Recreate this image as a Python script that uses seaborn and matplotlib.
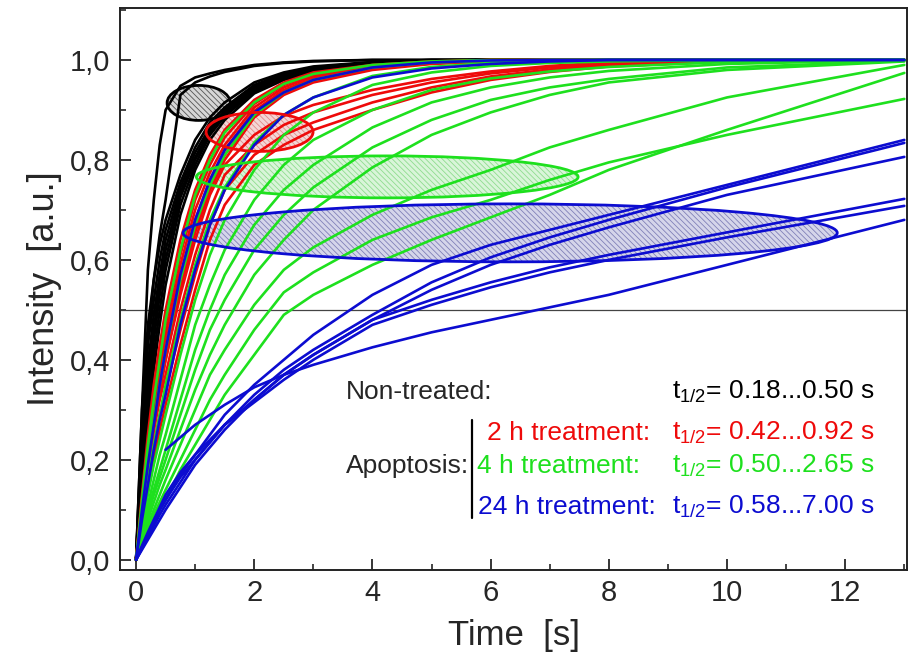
import numpy as np
import pandas as pd
import matplotlib
matplotlib.use("Agg")
import matplotlib.pyplot as plt
from matplotlib import font_manager
from matplotlib.patches import Ellipse
from matplotlib.ticker import MultipleLocator, FuncFormatter
import seaborn as sns

# ---------------- data ----------------
# sampling times of the recovery curves [s]
TIME = [0, 0.1, 0.2, 0.3, 0.4, 0.5, 0.75, 1, 1.25, 1.5, 2, 2.5, 3, 4, 5, 6, 7, 8, 10, 13]

# non-treated cells
BLACK_CURVES = [
    [0, .30, .58, .72, .83, .90, .948, .965, .973, .98, .99, .995, .998, 1, 1, 1, 1, 1, 1, 1],
    [0, .24, .44, .56, .65, .72, .93, .955, .967, .976, .988, .994, .997, 1, 1, 1, 1, 1, 1, 1],
    [0, .30, .47, .56, .63, .68, .77, .84, .885, .915, .955, .975, .987, .996, 1, 1, 1, 1, 1, 1],
    [0, .27, .43, .52, .60, .66, .755, .825, .875, .905, .95, .972, .985, .995, 1, 1, 1, 1, 1, 1],
    [0, .24, .39, .49, .57, .64, .745, .815, .865, .90, .947, .97, .983, .994, .999, 1, 1, 1, 1, 1],
    [0, .21, .36, .46, .55, .62, .735, .805, .86, .895, .944, .968, .982, .993, .999, 1, 1, 1, 1, 1],
    [0, .19, .33, .44, .53, .60, .725, .80, .855, .89, .94, .965, .98, .992, .998, 1, 1, 1, 1, 1],
    [0, .17, .30, .41, .50, .58, .71, .79, .85, .887, .937, .962, .978, .991, .998, 1, 1, 1, 1, 1],
    [0, .15, .28, .38, .47, .55, .69, .78, .84, .88, .933, .96, .976, .99, .997, 1, 1, 1, 1, 1],
]

# 2 h treatment
RED_CURVES = [
    [0, .13, .25, .35, .43, .50, .64, .74, .81, .86, .92, .955, .975, .99, .997, 1, 1, 1, 1, 1],
    [0, .12, .23, .32, .40, .47, .61, .72, .79, .845, .912, .95, .97, .988, .996, 1, 1, 1, 1, 1],
    [0, .11, .21, .30, .38, .45, .59, .70, .775, .83, .905, .945, .967, .986, .995, .999, 1, 1, 1, 1],
    [0, .10, .20, .28, .36, .43, .57, .68, .76, .82, .898, .94, .963, .984, .994, .998, 1, 1, 1, 1],
    [0, .095, .19, .27, .34, .41, .55, .665, .75, .81, .89, .935, .96, .982, .993, .998, 1, 1, 1, 1],
    [0, .09, .18, .26, .33, .40, .54, .655, .74, .80, .885, .93, .955, .98, .992, .997, 1, 1, 1, 1],
    [0, .10, .20, .28, .35, .40, .53, .64, .73, .79, .85, .888, .91, .94, .962, .977, .988, .995, 1, 1],
    [0, .09, .18, .26, .32, .37, .50, .61, .70, .77, .83, .87, .895, .93, .955, .973, .985, .992, .999, 1],
    [0, .08, .16, .23, .29, .34, .46, .57, .67, .74, .81, .85, .875, .915, .945, .967, .981, .99, .998, 1],
    [0, .07, .14, .20, .26, .31, .43, .54, .64, .71, .79, .83, .86, .90, .935, .96, .976, .987, .997, 1],
]

# 4 h treatment
GREEN_CURVES = [
    [0, .12, .23, .32, .40, .48, .62, .73, .80, .855, .915, .952, .972, .99, .997, 1, 1, 1, 1, 1],
    [0, .10, .20, .28, .35, .42, .56, .67, .75, .81, .89, .935, .96, .985, .995, .998, 1, 1, 1, 1],
    [0, .08, .16, .23, .29, .35, .48, .59, .68, .745, .835, .89, .925, .968, .986, .994, .998, 1, 1, 1],
    [0, .07, .13, .19, .24, .29, .41, .52, .61, .68, .78, .85, .895, .95, .975, .988, .994, .997, 1, 1],
    [0, .06, .11, .16, .21, .25, .36, .47, .55, .62, .72, .79, .84, .90, .94, .963, .977, .986, .996, 1],
    [0, .05, .10, .14, .18, .22, .32, .42, .50, .57, .67, .74, .79, .865, .915, .945, .965, .978, .992, 1],
    [0, .045, .09, .13, .165, .20, .29, .38, .46, .52, .62, .69, .745, .825, .88, .92, .945, .962, .985, .998],
    [0, .04, .08, .115, .15, .18, .26, .34, .41, .47, .57, .64, .70, .785, .85, .895, .93, .955, .98, .997],
    [0, .035, .07, .10, .13, .16, .23, .30, .37, .42, .51, .58, .625, .69, .74, .78, .825, .86, .925, .99],
    [0, .03, .06, .09, .115, .14, .20, .26, .32, .37, .46, .535, .575, .64, .685, .72, .76, .795, .85, .922],
    [0, .025, .05, .075, .10, .12, .18, .23, .28, .33, .41, .49, .53, .59, .64, .685, .73, .78, .86, .974],
]

# 24 h treatment (None = not recorded)
BLUE_CURVES = [
    [0, .10, .19, .27, .35, .42, .57, .68, .76, .82, .895, .935, .96, .985, .995, .999, 1, 1, 1, 1],
    [0, .08, .15, .22, .28, .33, .47, .58, .67, .74, .83, .89, .925, .965, .983, .992, .997, 1, 1, 1],
    [0, .025, .05, .075, .10, .12, .17, .21, .25, .29, .35, .40, .45, .53, .59, .63, .66, .69, .75, .84],
    [0, .022, .045, .068, .09, .11, .155, .20, .235, .27, .33, .38, .42, .49, .555, .605, .645, .68, .745, .834],
    [0, .02, .04, .06, .08, .10, .145, .19, .225, .26, .32, .37, .41, .48, .54, .59, .63, .665, .73, .806],
    [0, .025, .05, .075, .10, .12, .165, .20, .235, .27, .32, .37, .41, .48, .52, .555, .585, .61, .655, .722],
    [0, .028, .055, .08, .105, .13, .175, .21, .24, .27, .315, .36, .40, .47, .51, .545, .575, .60, .645, .708],
    [None, None, None, None, None, .22, .245, .27, .29, .31, .345, .37, .39, .425, .455, .48, .505, .53, .59, .68],
]

GROUPS = ["Non-treated", "2 h", "4 h", "24 h"]
COLORS = ["#000000", "#ee0a0a", "#1ee01e", "#0c0cd0"]
HALF_TIMES = ["0.18...0.50 s", "0.42...0.92 s", "0.50...2.65 s", "0.58...7.00 s"]

# spread of the half-times of each group: centre (t, I), width, height
ELLIPSES = [
    ((1.06, 0.914), 1.07, 0.070),
    ((2.09, 0.856), 1.81, 0.078),
    ((4.25, 0.766), 6.46, 0.084),
    ((6.33, 0.654), 11.07, 0.116),
]
ELLIPSE_FILL = ["#d6d6d6", "#f3d6d6", "#d9f5d9", "#d5d5ea"]
ELLIPSE_HATCH = ["#555555", "#e08a8a", "#8fdc8f", "#8080b8"]

# ---------------- build table ----------------
rows = []
cid = 0
for grp, curves in zip(GROUPS, [BLACK_CURVES, RED_CURVES, GREEN_CURVES, BLUE_CURVES]):
    for vals in curves:
        for t, v in zip(TIME, vals):
            if v is not None:
                rows.append({"time": t, "intensity": v, "group": grp, "curve": cid})
        cid += 1
df = pd.DataFrame(rows)

# ---------------- style ----------------
sns.set_style("ticks")
names = {f.name for f in font_manager.fontManager.ttflist}
narrow = "Liberation Sans Narrow" if "Liberation Sans Narrow" in names else "Liberation Sans"
plt.rcParams["font.family"] = ["Liberation Sans", "DejaVu Sans"]
plt.rcParams["mathtext.fontset"] = "custom"
plt.rcParams["mathtext.rm"] = "Liberation Sans"
plt.rcParams["mathtext.it"] = "Liberation Sans:italic"
plt.rcParams["hatch.linewidth"] = 0.6

fig = plt.figure(figsize=(9.1, 6.64), dpi=100)
ax = fig.add_axes([0.132, 0.142, 0.865, 0.846])

# ellipse fills under the curves
for (c, w, h), fc, hc in zip(ELLIPSES, ELLIPSE_FILL, ELLIPSE_HATCH):
    ax.add_patch(Ellipse(c, w, h, facecolor=fc, edgecolor=hc, hatch="\\" * 6,
                         linewidth=0, zorder=1))

ax.axhline(0.5, color="#444444", linewidth=0.9, zorder=1.5)

sns.lineplot(data=df, x="time", y="intensity", hue="group", units="curve",
             estimator=None, hue_order=GROUPS, palette=COLORS, legend=False,
             linewidth=1.9, sort=False, ax=ax, zorder=2)

# ellipse outlines on top
for (c, w, h), col in zip(ELLIPSES, COLORS):
    ax.add_patch(Ellipse(c, w, h, facecolor="none", edgecolor=col,
                         linewidth=2.0, zorder=3))

ax.set_xlim(-0.27, 13.05)
ax.set_ylim(-0.02, 1.104)
ax.xaxis.set_major_locator(MultipleLocator(2))
ax.xaxis.set_minor_locator(MultipleLocator(1))
ax.yaxis.set_major_locator(MultipleLocator(0.2))
ax.yaxis.set_minor_locator(MultipleLocator(0.1))
ax.yaxis.set_major_formatter(FuncFormatter(lambda v, p: f"{v:.1f}".replace(".", ",")))
ax.xaxis.set_major_formatter(FuncFormatter(lambda v, p: f"{v:.0f}"))
ax.tick_params(which="major", direction="in", length=8, width=1.3, pad=7, labelsize=21)
ax.tick_params(which="minor", direction="in", length=4.5, width=1.2)
for lab in ax.get_xticklabels() + ax.get_yticklabels():
    lab.set_fontfamily(narrow)
for s in ax.spines.values():
    s.set_linewidth(1.4)
    s.set_color("#222222")

ax.set_xlabel("Time  [s]", fontsize=25, family=narrow, labelpad=8)
ax.set_ylabel("Intensity  [a.u.]", fontsize=26, family=narrow, labelpad=6)

# annotation block
fs = 19
ax.text(3.55, 0.336, "Non-treated:", fontsize=fs, va="center", ha="left")
ax.text(3.55, 0.188, "Apoptosis:", fontsize=fs, va="center", ha="left")
ax.plot([5.69, 5.69], [0.084, 0.28], color="black", linewidth=1.6)
label_rows = [(None, 0.336), ("2 h treatment:", 0.254), ("4 h treatment:", 0.188),
              ("24 h treatment:", 0.106)]
starts = [None, 5.94, 5.77, 5.79]
for (txt, y), x0, col, ht in zip(label_rows, starts, COLORS, HALF_TIMES):
    if txt is not None:
        ax.text(x0, y, txt, fontsize=fs, color=col, va="center", ha="left")
    ax.text(9.07, y, r"t$_{\mathrm{1/2}}$= " + ht, fontsize=fs, color=col,
            va="center", ha="left")

fig.savefig("out.png", dpi=100)
